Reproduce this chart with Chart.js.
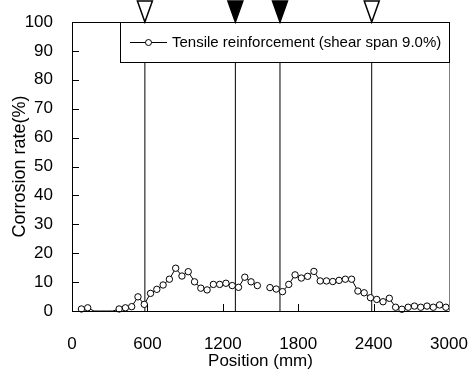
<!DOCTYPE html>
<html>
<head>
<meta charset="utf-8">
<script src="https://cdn.jsdelivr.net/npm/chart.js@4.4.1/dist/chart.umd.min.js"></script>
<style>
  html, body { margin: 0; padding: 0; background: #fff; }
  #wrap { width: 473px; height: 380px; }
</style>
</head>
<body>
<div id="wrap"><canvas id="corrosion"></canvas></div>
<script>
// measurement positions along the beam (mm) and corrosion rate (%)
const positions = [75, 125, 175, 225, 275, 325, 375, 425, 475, 525, 575, 625, 675, 725, 775, 825,
  875, 925, 975, 1025, 1075, 1125, 1175, 1225, 1275, 1325, 1375, 1425, 1475, 1525,
  1575, 1625, 1675, 1725, 1775, 1825, 1875, 1925, 1975, 2025, 2075, 2125, 2175, 2225,
  2275, 2325, 2375, 2425, 2475, 2525, 2575, 2625, 2675, 2725, 2775, 2825, 2875, 2925, 2975];
const corrosion = [0.7, 1.1, 0, 0, 0, 0, 0.7, 1.1, 1.5, 4.9, 2.3, 6.1, 7.5, 9.0, 11.0, 14.8,
  12.1, 13.6, 10.1, 7.9, 7.3, 9.2, 9.2, 9.6, 8.8, 8.2, 11.7, 10.1, 8.8, null,
  8.1, 7.6, 6.7, 9.2, 12.5, 11.4, 12.0, 13.7, 10.4, 10.4, 10.2, 10.6, 11.0, 11.0,
  6.9, 6.3, 4.6, 4.0, 3.2, 4.4, 1.3, 0.6, 1.3, 1.7, 1.3, 1.7, 1.3, 2.1, 1.3];
// points without a marker (no reading taken there)
const noMarker = [175, 225, 275, 325];

// loading / support points: filled = load, open = support
const loadPoints = [580, 1300, 1655, 2385];
const loadFilled = [false, true, true, false];

const xTicks = [0, 600, 1200, 1800, 2400, 3000];
const yTicks = [0, 10, 20, 30, 40, 50, 60, 70, 80, 90, 100];
const seriesLabel = 'Tensile reinforcement (shear span 9.0%)';

const FONT = "'Liberation Sans', Arial, sans-serif";

const datasets = [{
  label: seriesLabel,
  data: positions.map((p, i) => ({ x: p, y: corrosion[i] })),
  borderColor: '#000',
  borderWidth: 1,
  backgroundColor: '#fff',
  pointBackgroundColor: '#fff',
  pointBorderColor: '#000',
  pointBorderWidth: 1,
  pointRadius: positions.map(p => noMarker.includes(p) ? 0 : 3.2),
  spanGaps: false,
  tension: 0,
  clip: false
}];
loadPoints.forEach(p => {
  datasets.push({
    data: [{ x: p, y: 0 }, { x: p, y: 100 }],
    borderColor: '#000',
    borderWidth: 1,
    pointRadius: 0
  });
});

// frame, inward tick marks, load triangles and boxed legend
const decor = {
  id: 'decor',
  afterDatasetsDraw(chart) {
    const ctx = chart.ctx;
    const a = chart.chartArea;
    const xs = chart.scales.x, ys = chart.scales.y;
    ctx.save();
    ctx.lineWidth = 1;
    ctx.strokeStyle = '#000';
    // y ticks pointing into the plot
    yTicks.forEach(v => {
      const y = Math.round(ys.getPixelForValue(v)) + 0.5;
      ctx.beginPath(); ctx.moveTo(a.left, y); ctx.lineTo(a.left + 7, y); ctx.stroke();
    });
    xTicks.forEach(v => {
      const x = Math.round(xs.getPixelForValue(v)) + 0.5;
      ctx.beginPath(); ctx.moveTo(x, a.bottom); ctx.lineTo(x, a.bottom - 7); ctx.stroke();
    });
    // plot frame
    ctx.beginPath();
    ctx.moveTo(a.left + 0.5, a.top + 0.5);
    ctx.lineTo(a.left + 0.5, a.bottom + 0.5);
    ctx.lineTo(a.right + 0.5, a.bottom + 0.5);
    ctx.moveTo(a.left + 0.5, a.top + 0.5);
    ctx.lineTo(a.right + 0.5, a.top + 0.5);
    ctx.stroke();
    ctx.strokeStyle = '#808080';
    ctx.beginPath();
    ctx.moveTo(a.right + 0.5, a.top + 0.5);
    ctx.lineTo(a.right + 0.5, a.bottom + 0.5);
    ctx.stroke();

    // legend box
    const lx = 120, ly = a.top, lw = a.right - 120, lh = 40;
    ctx.fillStyle = '#fff';
    ctx.fillRect(lx, ly, lw, lh);
    ctx.strokeStyle = '#000';
    ctx.strokeRect(lx + 0.5, ly + 0.5, lw, lh);
    const cy = ly + 20;
    ctx.beginPath(); ctx.moveTo(130, cy + 0.5); ctx.lineTo(167, cy + 0.5); ctx.stroke();
    ctx.beginPath(); ctx.arc(148.5, cy + 0.5, 3, 0, Math.PI * 2);
    ctx.fill(); ctx.stroke();
    ctx.fillStyle = '#000';
    ctx.font = '15px ' + FONT;
    ctx.textBaseline = 'middle';
    ctx.textAlign = 'left';
    ctx.fillText(seriesLabel, 172, cy + 1);

    // triangles above the plot at the load/support positions
    loadPoints.forEach((p, i) => {
      const x = xs.getPixelForValue(p);
      ctx.beginPath();
      ctx.moveTo(x - 7.5, 1);
      ctx.lineTo(x + 7.5, 1);
      ctx.lineTo(x, a.top);
      ctx.closePath();
      ctx.fillStyle = loadFilled[i] ? '#000' : '#fff';
      ctx.fill();
      ctx.lineWidth = 1.5;
      ctx.stroke();
    });
    ctx.restore();
  }
};

new Chart(document.getElementById('corrosion'), {
  type: 'line',
  data: { datasets },
  options: {
    responsive: true,
    maintainAspectRatio: false,
    animation: false,
    layout: { padding: { top: 22, right: 24, left: 0, bottom: 0 } },
    plugins: { legend: { display: false }, tooltip: { enabled: false } },
    scales: {
      x: {
        type: 'linear',
        min: 0, max: 3000,
        afterFit: s => { s.height = 69; s.paddingLeft = 0; s.paddingRight = 0; },
        afterBuildTicks: s => { s.ticks = xTicks.map(v => ({ value: v })); },
        grid: { display: false, drawTicks: false },
        border: { display: false },
        ticks: { color: '#000', padding: 23, maxRotation: 0, callback: v => String(v), font: { family: FONT, size: 17 } },
        title: { display: true, text: 'Position (mm)', color: '#000', padding: { top: 0, bottom: 8 }, font: { family: FONT, size: 17 } }
      },
      y: {
        min: 0, max: 100,
        afterFit: s => { s.width = 72; s.paddingTop = 0; s.paddingBottom = 0; },
        afterBuildTicks: s => { s.ticks = yTicks.map(v => ({ value: v })); },
        grid: { display: false, drawTicks: false },
        border: { display: false },
        ticks: { color: '#000', padding: 19, callback: v => String(v), font: { family: FONT, size: 17 } },
        title: { display: true, text: 'Corrosion rate(%)', color: '#000', padding: { top: 9, bottom: 0 }, font: { family: FONT, size: 18 } }
      }
    }
  },
  plugins: [decor]
});
</script>
</body>
</html>
